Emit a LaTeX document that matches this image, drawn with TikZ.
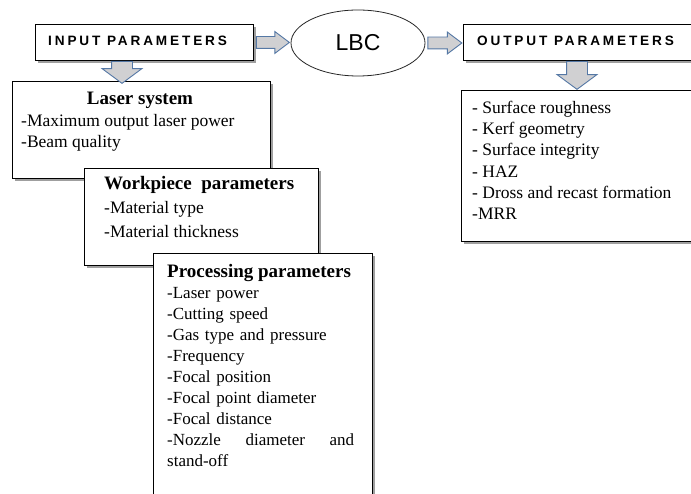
\documentclass[tikz,border=0pt]{standalone}
\usepackage{fontspec}
\setmainfont{Liberation Serif}
\newfontfamily\hdrfont[LetterSpace=21]{Liberation Sans}
\newfontfamily\lbcfont{Liberation Sans}
\usetikzlibrary{shapes.geometric,shapes.arrows,shadows,calc}
\definecolor{arrowline}{RGB}{85,120,165}
\definecolor{arrowfill}{RGB}{208,208,210}
\begin{document}
\begin{tikzpicture}[x=1pt,y=-1pt,
  box/.style={draw=black, line width=0.9pt, fill=white, inner sep=0pt, anchor=north west,
    drop shadow={shadow xshift=3pt, shadow yshift=-3pt, fill=gray!75, opacity=1}},
  hdr/.style={font=\hdrfont\bfseries\fontsize{13.6}{15}\selectfont, inner sep=0pt, anchor=base west},
  ttl/.style={font=\bfseries\fontsize{19}{22}\selectfont, inner sep=0pt, anchor=base west},
  lst/.style={font=\fontsize{17.5}{21.2}\selectfont, inner sep=0pt, anchor=north west, align=left},
  rarrow/.style={single arrow, draw=arrowline, fill=arrowfill, line width=0.9pt,
    inner xsep=0pt, inner ysep=5.5pt, minimum width=1pt, single arrow head extend=5pt,
    single arrow tip angle=74, single arrow head indent=0pt, anchor=tail},
  darrow/.style={single arrow, draw=arrowline, fill=arrowfill, line width=0.9pt,
    inner xsep=0pt, inner ysep=10pt, minimum width=1pt, single arrow head extend=9.5pt,
    single arrow tip angle=107, single arrow head indent=0pt, anchor=tail, rotate=-90}
]
\useasboundingbox (0,0) rectangle (691,494);
\fill[white] (0,0) rectangle (691,494);

% top row
\node[box, minimum width=218pt, minimum height=36pt] (inp) at (35,24) {};
\node[hdr] (inpT) at (48,45.5) {INPUT PARAMETERS};
\node[ellipse, draw=black!85, line width=0.8pt, fill=white, minimum width=134pt, minimum height=66pt,
  font=\lbcfont\fontsize{23}{26}\selectfont] (lbc) at (358,43) {LBC};
\node[box, minimum width=232pt, minimum height=36pt] (out) at (463,24) {};
\node[hdr] (outT) at (477,45.5) {OUTPUT PARAMETERS};

\node[rarrow, minimum height=33pt] (a1) at ($(inp.east)+(2,0)$) {};
\node[rarrow, minimum height=34pt] (a2) at ($(lbc.east)+(2,0)$) {};

% output list
\node[box, minimum width=234pt, minimum height=151pt] (outl) at (461,90) {};
\node[lst] (outlT) at (472,101) {- Surface roughness\\- Kerf geometry\\- Surface integrity\\- HAZ\\- Dross and recast formation\\-MRR};
\node[darrow, minimum height=28pt] (a3) at ($(out.south west)+(114,0)$) {};

% laser system
\node[box, minimum width=258pt, minimum height=97pt] (las) at (12,81) {};
\node[ttl, anchor=base] (lasT) at (140,105) {Laser system};
\node[lst] (lasL) at (21,114) {-Maximum output laser power\\-Beam quality};
\node[darrow, minimum height=22pt] (a4) at ($(inp.south west)+(87,0)$) {};

% workpiece
\node[box, minimum width=234pt, minimum height=97pt] (wrk) at (84,168) {};
\node[ttl] (wrkT) at (104,190) {Workpiece\ \ parameters};
\node[lst, font=\fontsize{17.5}{24}\selectfont] (wrkL) at (104,201) {-Material type\\-Material thickness};

% processing
\node[box, minimum width=219pt, minimum height=250pt] (prc) at (153,253) {};
\node[ttl] (prcT) at (167,278) {Processing parameters};
\node[lst, font=\fontsize{17}{21}\selectfont, text width=187pt] (prcL) at (167,287) {-Laser power\\-Cutting speed\\-Gas type and pressure\\-Frequency\\-Focal position\\-Focal point diameter\\-Focal distance\\-Nozzle\hfill diameter\hfill and\\stand-off};
\end{tikzpicture}
\end{document}
